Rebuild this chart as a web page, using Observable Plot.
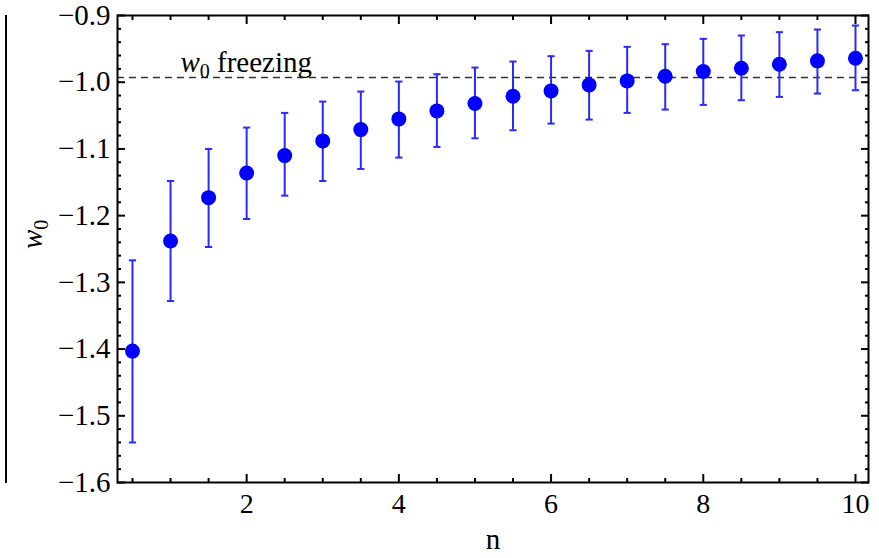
<!DOCTYPE html>
<html>
<head>
<meta charset="utf-8">
<script src="https://cdn.jsdelivr.net/npm/d3@7"></script>
<script src="https://cdn.jsdelivr.net/npm/@observablehq/plot@0.6"></script>
<style>
  body { margin: 0; background: #fff; font-family: 'Liberation Serif', serif; }
  #wrap { position: relative; width: 879px; height: 558px; overflow: hidden; background: #fff; }
  #neighbor { position: absolute; left: 5px; top: 15px; width: 2px; height: 468px; background: #000; }
  svg, svg text, svg tspan, svg g { font-family: 'Liberation Serif', 'Times New Roman', serif !important; }
</style>
</head>
<body>
<div id="wrap"><div id="neighbor"></div></div>
<script>
// ---- data ----
const nValues  = [0.5, 1, 1.5, 2, 2.5, 3, 3.5, 4, 4.5, 5, 5.5, 6, 6.5, 7, 7.5, 8, 8.5, 9, 9.5, 10];
const w0Values = [-1.403, -1.238, -1.173, -1.136, -1.110, -1.088, -1.071, -1.055, -1.043, -1.032,
                  -1.021, -1.013, -1.004, -0.998, -0.991, -0.984, -0.979, -0.973, -0.968, -0.964];
const w0Lower  = [-1.540, -1.328, -1.247, -1.205, -1.170, -1.148, -1.130, -1.113, -1.097, -1.084,
                  -1.072, -1.062, -1.056, -1.046, -1.041, -1.034, -1.027, -1.022, -1.017, -1.012];
const w0Upper  = [-1.267, -1.148, -1.100, -1.068, -1.046, -1.029, -1.014, -0.999, -0.988, -0.978,
                  -0.969, -0.961, -0.953, -0.947, -0.943, -0.935, -0.930, -0.925, -0.921, -0.915];
const freezingW0 = -0.993;
const freezingLabel = "w0 freezing";
const freezingLabelPos = { n: 1.13, w: -0.971 };
const xLabel = "n";
const yLabel = "w0";

const xMajorTicks = [2, 4, 6, 8, 10];
const xMinorTicks = [0.5, 1, 1.5, 2.5, 3, 3.5, 4.5, 5, 5.5, 6.5, 7, 7.5, 8.5, 9, 9.5];
const yMajorTicks = [-1.6, -1.5, -1.4, -1.3, -1.2, -1.1, -1.0, -0.9];
const yMinorTicks = [];
for (const m of [-1.6, -1.5, -1.4, -1.3, -1.2, -1.1, -1.0]) {
  for (const k of [1, 2, 3, 4]) yMinorTicks.push(+(m + k * 0.02).toFixed(2));
}

const data = nValues.map((n, i) => ({ n, w: w0Values[i], lo: w0Lower[i], hi: w0Upper[i] }));

const serif = "'Liberation Serif', 'Times New Roman', serif";
const dotBlue = "#0000ff";
const barBlue = "#2a2aff";
const capSymbol = {
  draw(ctx, size) {
    const r = Math.sqrt(size / Math.PI);
    ctx.moveTo(-r, 0);
    ctx.lineTo(r, 0);
  }
};

const chart = Plot.plot({
  width: 879,
  height: 558,
  marginLeft: 117,
  marginRight: 11,
  marginTop: 15,
  marginBottom: 76,
  style: "font-family: 'Liberation Serif', 'Times New Roman', serif; background: white; color: black; overflow: visible;",
  x: { domain: [0.303, 10.171], label: null },
  y: { domain: [-1.6, -0.9], label: null },
  marks: [
    Plot.ruleY([freezingW0], { stroke: "#333", strokeWidth: 1.6, strokeDasharray: "7,5" }),
    Plot.ruleX(data, { x: "n", y1: "lo", y2: "hi", stroke: barBlue, strokeWidth: 2 }),
    Plot.dot(data, { x: "n", y: "lo", symbol: capSymbol, r: 3.6, stroke: barBlue, strokeWidth: 2, fill: "none" }),
    Plot.dot(data, { x: "n", y: "hi", symbol: capSymbol, r: 3.6, stroke: barBlue, strokeWidth: 2, fill: "none" }),
    Plot.dot(data, { x: "n", y: "w", r: 7.5, fill: dotBlue, stroke: "none" }),
    Plot.text([freezingLabelPos], { x: "n", y: "w", text: () => freezingLabel, textAnchor: "start", fontSize: 29, fontFamily: serif, fill: "black" }),
    // frame & inward ticks on all four sides
    Plot.frame({ stroke: "black", strokeWidth: 2 }),
    Plot.axisX(xMajorTicks, { anchor: "bottom", tickSize: -8, strokeWidth: 2, fill: "none", label: null }),
    Plot.axisX(xMinorTicks, { anchor: "bottom", tickSize: -4, strokeWidth: 2, fill: "none", label: null }),
    Plot.axisX(xMajorTicks, { anchor: "top", tickSize: -8, strokeWidth: 2, fill: "none", label: null }),
    Plot.axisX(xMinorTicks, { anchor: "top", tickSize: -4, strokeWidth: 2, fill: "none", label: null }),
    Plot.axisY(yMajorTicks, { anchor: "left", tickSize: -8, strokeWidth: 2, fill: "none", label: null }),
    Plot.axisY(yMinorTicks, { anchor: "left", tickSize: -4, strokeWidth: 2, fill: "none", label: null }),
    Plot.axisY(yMajorTicks, { anchor: "right", tickSize: -8, strokeWidth: 2, fill: "none", label: null }),
    Plot.axisY(yMinorTicks, { anchor: "right", tickSize: -4, strokeWidth: 2, fill: "none", label: null }),
    // tick labels
    Plot.axisX(xMajorTicks, { anchor: "bottom", tickSize: 0, tickPadding: 11, fontSize: 28, fontFamily: serif, tickFormat: d3.format("d"), label: null, fill: "black" }),
    Plot.axisY(yMajorTicks, { anchor: "left", tickSize: 0, tickPadding: 7, fontSize: 29, fontFamily: serif, tickFormat: d3.format(".1f"), label: null, fill: "black" }),
    // axis titles
    Plot.text([xLabel], { frameAnchor: "bottom", text: d => d, dy: 66, fontSize: 29, fontFamily: serif, fill: "black" }),
    Plot.text([yLabel], { frameAnchor: "left", text: d => d, dx: -85, rotate: -90, fontSize: 29, fontFamily: serif, fill: "black" })
  ]
});

chart.setAttribute("font-family", serif);
document.getElementById("wrap").appendChild(chart);

chart.querySelectorAll("text").forEach(t => {
  t.setAttribute("font-family", serif);
  t.style.setProperty("font-family", serif, "important");
  const s = t.textContent;
  if (s === freezingLabel) {
    t.innerHTML = '<tspan font-style="italic">w</tspan><tspan font-size="20" dy="6">0</tspan><tspan dy="-6"> freezing</tspan>';
  } else if (s === yLabel) {
    t.innerHTML = '<tspan font-style="italic">w</tspan><tspan font-size="20" dy="6">0</tspan>';
  }
});
</script>
</body>
</html>
